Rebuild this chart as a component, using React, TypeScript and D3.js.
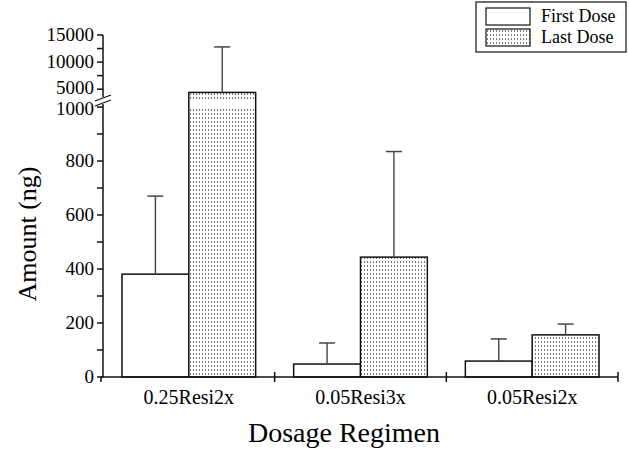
import React from "react";
import * as d3 from "d3";

// values
const categories = ["0.25Resi2x", "0.05Resi3x", "0.05Resi2x"];
const seriesNames = ["First Dose", "Last Dose"];
const firstDose = [381, 48, 59];
const firstDoseSd = [289, 78, 82];
const lastDose = [4400, 444, 156];
const lastDoseSd = [8400, 391, 40];
const lowerTicks = [0, 200, 400, 600, 800, 1000];
const lowerMinor = [100, 300, 500, 700, 900];
const upperTicks = [5000, 10000, 15000];
const upperMinor = [7500, 12500];

const W = 629;
const H = 451;
const FONT = "Liberation Serif, Times New Roman, Times, serif";

const App = () => {
  const axisX = 103;
  const baseY = 377;

  const x0 = d3.scaleBand<string>().domain(categories).range([axisX, 618]);
  const x1 = d3
    .scaleBand<string>()
    .domain(seriesNames)
    .range([19, x0.bandwidth() - 19]);

  // broken axis: two linear pieces
  const yLow = d3.scaleLinear().domain([0, 1000]).range([baseY, 107]);
  const yHigh = d3.scaleLinear().domain([3000, 15000]).range([100, 35]);
  const yTop = (v: number) => (v > 1000 ? yHigh(v) : yLow(v));

  const rows = categories.map((c, i) => [
    { cat: c, s: seriesNames[0], v: firstDose[i], sd: firstDoseSd[i] },
    { cat: c, s: seriesNames[1], v: lastDose[i], sd: lastDoseSd[i] },
  ]).flat();

  const tickLen = 6;
  const txt = { fontFamily: FONT };

  return (
    <svg
      width={W}
      height={H}
      style={{ position: "absolute", left: 0, top: 0, background: "#fff", fontFamily: FONT }}
    >
      <defs>
        <pattern id="dots" width={3} height={4} patternUnits="userSpaceOnUse">
          <rect width={3} height={4} fill="#fff" />
          <rect x={1} y={1} width={1} height={2} fill="#777" />
        </pattern>
      </defs>

      {/* bars */}
      {rows.map((d, i) => {
        const bx = x0(d.cat)! + x1(d.s)!;
        const bw = x1.bandwidth();
        const top = yTop(d.v);
        const fill = d.s === seriesNames[1] ? "url(#dots)" : "#fff";
        const errTop = yTop(d.v + d.sd);
        const cx = bx + bw / 2;
        return (
          <g key={i}>
            {d.v > 1000 ? (
              <>
                <rect x={bx} y={top} width={bw} height={100 - top} fill={fill} />
                <rect x={bx} y={yLow(1000)} width={bw} height={baseY - yLow(1000)} fill={fill} />
              </>
            ) : (
              <rect x={bx} y={top} width={bw} height={baseY - top} fill={fill} />
            )}
            <rect x={bx} y={top} width={bw} height={baseY - top} fill="none" stroke="#111" strokeWidth={1.5} />
            <line x1={cx} x2={cx} y1={top} y2={errTop} stroke="#444" strokeWidth={1.4} />
            <line x1={cx - 8} x2={cx + 8} y1={errTop} y2={errTop} stroke="#444" strokeWidth={1.5} />
          </g>
        );
      })}

      {/* y axis */}
      <g stroke="#111" strokeWidth={1.5}>
        <line x1={axisX} x2={axisX} y1={yHigh(15000)} y2={97} />
        <line x1={axisX} x2={axisX} y1={104} y2={baseY} />
        <line x1={axisX - 8} x2={axisX + 8} y1={101} y2={95} strokeWidth={1.2} />
        <line x1={axisX - 8} x2={axisX + 8} y1={106} y2={100} strokeWidth={1.2} />
        {lowerTicks.concat(lowerMinor).map((t) => (
          <line key={"l" + t} x1={axisX - tickLen} x2={axisX} y1={yLow(t)} y2={yLow(t)} />
        ))}
        {upperTicks.concat(upperMinor).map((t) => (
          <line key={"u" + t} x1={axisX - tickLen} x2={axisX} y1={yHigh(t)} y2={yHigh(t)} />
        ))}
      </g>
      <g fontSize={19} textAnchor="end" fill="#000">
        {lowerTicks.map((t) => (
          <text key={t} style={txt} x={axisX - 9} y={yLow(t) + (t === 1000 ? 2 : 0)} dy="0.33em">{t}</text>
        ))}
        {upperTicks.map((t) => (
          <text key={t} style={txt} x={axisX - 9} y={yHigh(t) - (t === 5000 ? 1 : 0)} dy="0.33em">{t}</text>
        ))}
      </g>

      {/* x axis */}
      <g stroke="#111" strokeWidth={1.5}>
        <line x1={axisX - 2} x2={618} y1={baseY} y2={baseY} />
        {categories.map((c) => (
          <line key={c} x1={x0(c)! + x0.bandwidth()} x2={x0(c)! + x0.bandwidth()} y1={baseY - 5} y2={baseY + 5} />
        ))}
        <line x1={axisX - 2} x2={axisX - 2} y1={baseY} y2={baseY + 5} />
      </g>
      <g fontSize={20} textAnchor="middle" fill="#000">
        {categories.map((c) => (
          <text key={c} style={txt} x={x0(c)! + x0.bandwidth() / 2} y={404}>{c}</text>
        ))}
      </g>

      {/* titles */}
      <text style={txt} x={344} y={442} fontSize={28} textAnchor="middle">Dosage Regimen</text>
      <text style={txt} transform="translate(36,234) rotate(-90)" fontSize={26} textAnchor="middle">Amount (ng)</text>

      {/* legend */}
      <rect x={476} y={2} width={150} height={50} fill="#fff" stroke="#111" strokeWidth={1.2} />
      {seriesNames.map((s, i) => (
        <g key={s} transform={`translate(486,${8 + i * 21})`}>
          <rect width={44} height={17} fill={i === 1 ? "url(#dots)" : "#fff"} stroke="#111" strokeWidth={1.2} />
          <text style={txt} x={55} y={14} fontSize={18}>{s}</text>
        </g>
      ))}
    </svg>
  );
};

export default App;
